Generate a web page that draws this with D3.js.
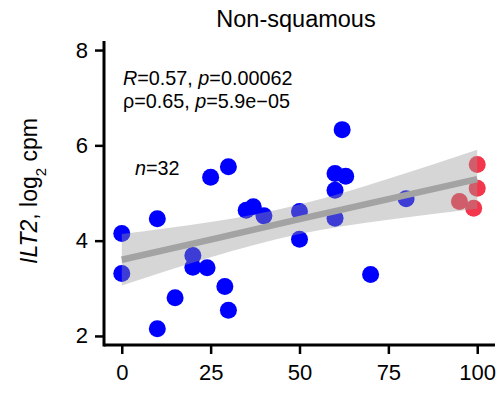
<!DOCTYPE html>
<meta charset="utf-8">
<script src="https://d3js.org/d3.v7.min.js"></script>
<style>
  body { margin: 0; background: #fff; }
  svg text { font-family: "Liberation Sans", Arial, sans-serif; }
</style>
<div id="chart"></div>
<script>
// points (x = %, y = ILT2 log2 cpm)
var blueX = [0, 0, 10, 10, 15, 20, 20, 24, 25, 29, 30, 30, 35, 37, 40, 50, 50, 60, 63, 60, 60, 62, 70, 80];
var blueY = [4.15, 3.31, 4.46, 2.15, 2.80, 3.69, 3.44, 3.43, 5.33, 3.04, 2.54, 5.55, 4.64, 4.71, 4.52, 4.61, 4.03, 5.41, 5.35, 5.06, 4.47, 6.33, 3.29, 4.88];
var redX = [100, 100, 95, 99];
var redY = [5.60, 5.10, 4.82, 4.68];

// fitted line and confidence band
var fitX = [0, 25, 50, 75, 100];
var fitY = [3.60, 4.02, 4.45, 4.87, 5.29];
var bandLo = [3.06, 3.65, 4.14, 4.44, 4.67];
var bandHi = [4.14, 4.39, 4.76, 5.30, 5.91];

var xTicks = [0, 25, 50, 75, 100];
var yTicks = [2, 4, 6, 8];

var W = 500, H = 393;
var svg = d3.select("#chart").append("svg")
    .attr("width", W)
    .attr("height", H);

var x = d3.scaleLinear().domain([-5, 105]).range([104, 495]);
var y = d3.scaleLinear().domain([1.81, 8.19]).range([345, 41]);

// points
var pts = blueX.map(function(d, i) { return {x: d, y: blueY[i], c: "#0000ff"}; })
  .concat(redX.map(function(d, i) { return {x: d, y: redY[i], c: "#f4364c"}; }));

svg.append("g").selectAll("circle")
  .data(pts)
  .enter().append("circle")
    .attr("cx", function(d) { return x(d.x); })
    .attr("cy", function(d) { return y(d.y); })
    .attr("r", 8.5)
    .attr("fill", function(d) { return d.c; });

// band + line
var band = fitX.map(function(d, i) { return {x: d, lo: bandLo[i], hi: bandHi[i], f: fitY[i]}; });

svg.append("path")
  .datum(band)
  .attr("fill", "#999999")
  .attr("fill-opacity", 0.4)
  .attr("d", d3.area()
    .curve(d3.curveNatural)
    .x(function(d) { return x(d.x); })
    .y0(function(d) { return y(d.lo); })
    .y1(function(d) { return y(d.hi); }));

svg.append("path")
  .datum(band)
  .attr("fill", "none")
  .attr("stroke", "#a3a3a3")
  .attr("stroke-width", 6.5)
  .attr("d", d3.line()
    .x(function(d) { return x(d.x); })
    .y(function(d) { return y(d.f); }));

// axes
var xAxis = svg.append("g")
  .attr("transform", "translate(0,345)")
  .call(d3.axisBottom(x).tickValues(xTicks).tickSize(9).tickPadding(10));
var yAxis = svg.append("g")
  .attr("transform", "translate(104,0)")
  .call(d3.axisLeft(y).tickValues(yTicks).tickFormat(d3.format("d")).tickSize(9).tickPadding(7));

[xAxis, yAxis].forEach(function(a) {
  a.select(".domain").attr("stroke", "#000").attr("stroke-width", 3);
  a.selectAll(".tick line").attr("stroke", "#000").attr("stroke-width", 2.5);
  a.selectAll(".tick text")
    .attr("fill", "#000")
    .style("font-size", "22px")
    .style("font-family", "'Liberation Sans', Arial, sans-serif");
});
xAxis.select(".domain").attr("d", "M104,0H495");
yAxis.select(".domain").attr("d", "M0,41V346.5");

// title
svg.append("text")
  .attr("x", 296)
  .attr("y", 27)
  .attr("text-anchor", "middle")
  .style("font-size", "23.5px")
  .text("Non-squamous");

// y axis title
var yt = svg.append("text")
  .attr("transform", "translate(37,191) rotate(-90)")
  .attr("text-anchor", "middle")
  .style("font-size", "23px");
yt.append("tspan").style("font-style", "italic").text("ILT2");
yt.append("tspan").text(", log");
yt.append("tspan").attr("baseline-shift", "sub").style("font-size", "15px").text("2");
yt.append("tspan").text(" cpm");

// stats annotation
var a1 = svg.append("text").attr("x", 123).attr("y", 85).style("font-size", "19.8px");
a1.append("tspan").style("font-style", "italic").text("R");
a1.append("tspan").text("=0.57, ");
a1.append("tspan").style("font-style", "italic").text("p");
a1.append("tspan").text("=0.00062");

var a2 = svg.append("text").attr("x", 123).attr("y", 108).style("font-size", "19.8px");
a2.append("tspan").text("\u03c1=0.65, ");
a2.append("tspan").style("font-style", "italic").text("p");
a2.append("tspan").text("=5.9e\u221205");

var a3 = svg.append("text").attr("x", 135).attr("y", 175).style("font-size", "19.8px");
a3.append("tspan").style("font-style", "italic").text("n");
a3.append("tspan").text("=32");
</script>
